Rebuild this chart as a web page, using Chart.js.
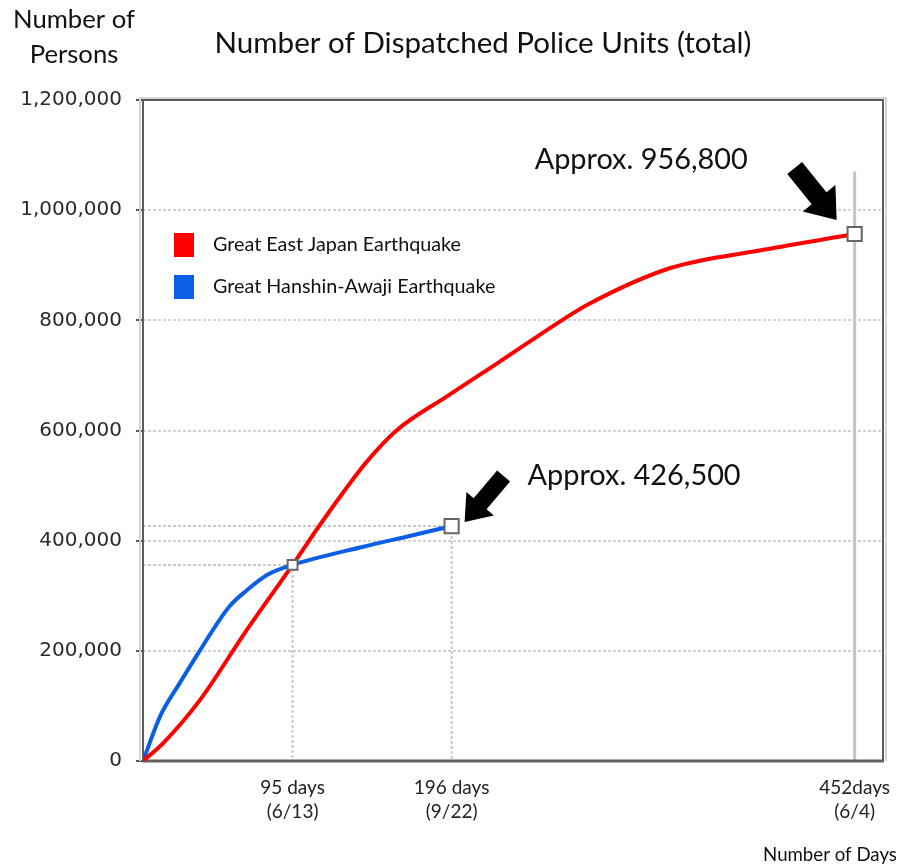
<!DOCTYPE html>
<html><head><meta charset="utf-8">
<script src="https://cdn.jsdelivr.net/npm/chart.js@4.4.1/dist/chart.umd.min.js"></script>
<style>html,body{margin:0;padding:0;background:#fff}#wrap{width:900px;height:866px}</style>
</head><body><div id="wrap"><canvas id="c" width="900" height="866"></canvas></div>
<script>
// ---- data ----
const titleText = 'Number of Dispatched Police Units (total)';
const yTitleLines = ['Number of', 'Persons'];
const xTitleText = 'Number of Days';
const seriesNames = ['Great East Japan Earthquake', 'Great Hanshin-Awaji Earthquake'];
const eastDays   = [0, 13, 36, 65, 95, 111, 127, 142, 161, 193, 225, 266, 282, 335, 394, 452];
const eastValues = [0, 33000, 110000, 234000, 356000, 423000, 487000, 543000, 600000, 662000, 722000, 800000, 828000, 895000, 928000, 956800];
const hanshinDays   = [0, 11, 23, 36, 46, 55, 66, 79, 95, 140, 170, 196];
const hanshinValues = [0, 82000, 140000, 200000, 245000, 281000, 310000, 338000, 356000, 389000, 409000, 426500];
const yTickValues = [0, 200000, 400000, 600000, 800000, 1000000, 1200000];
const xTickDays = [95, 196, 452];
const xTickLabels = [['95 days', '(6/13)'], ['196 days', '(9/22)'], ['452days', '(6/4)']];
const crossDay = 95, crossValue = 356000;
const eastEndDay = 452, eastEndValue = 956800, eastEndText = 'Approx. 956,800';
const hanshinEndDay = 196, hanshinEndValue = 426500, hanshinEndText = 'Approx. 426,500';
const topRefValue = 1070000;

const RED = '#ff0000', BLUE = '#0a5fe6';
const SANS = 'Lato, "Open Sans", sans-serif';

function fitFont(ctx, text, w, family) {
  ctx.font = '100px ' + family;
  const m = ctx.measureText(text).width;
  const s = 100 * w / m;
  ctx.font = s.toFixed(2) + 'px ' + family;
  return s;
}
function arrow(ctx, x0, y0, x1, y1, bw, hl, hw) {
  const dx = x1 - x0, dy = y1 - y0, L = Math.hypot(dx, dy);
  const ux = dx / L, uy = dy / L, nx = -uy, ny = ux;
  const bx = x1 - ux * hl, by = y1 - uy * hl;
  ctx.beginPath();
  ctx.moveTo(x0 + nx * bw / 2, y0 + ny * bw / 2);
  ctx.lineTo(bx + nx * bw / 2, by + ny * bw / 2);
  ctx.lineTo(bx + nx * hw / 2, by + ny * hw / 2);
  ctx.lineTo(x1, y1);
  ctx.lineTo(bx - nx * hw / 2, by - ny * hw / 2);
  ctx.lineTo(bx - nx * bw / 2, by - ny * bw / 2);
  ctx.lineTo(x0 - nx * bw / 2, y0 - ny * bw / 2);
  ctx.closePath();
  ctx.fillStyle = '#000';
  ctx.fill();
}

const underlay = {
  id: 'underlay',
  beforeDatasetsDraw(chart) {
    const {ctx, chartArea: a, scales: {x, y}} = chart;
    ctx.save();
    ctx.strokeStyle = '#c8c8c8'; ctx.lineWidth = 2; ctx.setLineDash([3, 2]);
    [[crossDay, crossValue], [hanshinEndDay, hanshinEndValue]].forEach(([d, v]) => {
      const px = x.getPixelForValue(d), py = y.getPixelForValue(v);
      ctx.beginPath(); ctx.moveTo(a.left, py); ctx.lineTo(px, py); ctx.stroke();
      ctx.beginPath(); ctx.moveTo(px, py); ctx.lineTo(px, a.bottom); ctx.stroke();
    });
    ctx.setLineDash([]);
    ctx.strokeStyle = '#c4c4c4'; ctx.lineWidth = 3;
    const ex = x.getPixelForValue(eastEndDay);
    ctx.beginPath(); ctx.moveTo(ex, y.getPixelForValue(topRefValue)); ctx.lineTo(ex, a.bottom); ctx.stroke();
    ctx.strokeStyle = '#d6d6d6'; ctx.lineWidth = 2;
    ctx.beginPath();
    ctx.moveTo(a.left - 3, a.bottom); ctx.lineTo(a.left - 3, a.top - 2); ctx.lineTo(a.right + 3, a.top - 2); ctx.lineTo(a.right + 3, a.bottom);
    ctx.stroke();
    ctx.strokeStyle = '#5c5c5c'; ctx.lineWidth = 2;
    ctx.beginPath();
    ctx.moveTo(a.left, a.bottom); ctx.lineTo(a.left, a.top); ctx.lineTo(a.right, a.top); ctx.lineTo(a.right, a.bottom);
    ctx.stroke();
    ctx.lineWidth = 3; ctx.strokeStyle = '#606060';
    ctx.beginPath(); ctx.moveTo(a.left - 1, a.bottom); ctx.lineTo(a.right + 1, a.bottom); ctx.stroke();
    ctx.restore();
  }
};

const overlay = {
  id: 'overlay',
  afterDraw(chart) {
    const {ctx, scales: {x, y}} = chart;
    ctx.save();
    ctx.fillStyle = '#111';
    ctx.textBaseline = 'middle';
    ctx.textAlign = 'center';
    fitFont(ctx, titleText, 537, SANS);
    ctx.fillText(titleText, 483, 43);
    fitFont(ctx, yTitleLines[0], 122, SANS);
    ctx.fillText(yTitleLines[0], 74, 20);
    ctx.fillText(yTitleLines[1], 74, 55);
    fitFont(ctx, xTitleText, 134, SANS);
    ctx.fillText(xTitleText, 830, 855);
    ctx.textAlign = 'left';
    fitFont(ctx, seriesNames[0], 248, SANS);
    [[RED, 245], [BLUE, 287]].forEach(([c, cy], i) => {
      ctx.fillStyle = c;
      ctx.fillRect(174, cy - 12, 20, 24);
      ctx.fillStyle = '#111';
      ctx.fillText(seriesNames[i], 213, cy);
    });
    const e = {x: x.getPixelForValue(eastEndDay), y: y.getPixelForValue(eastEndValue)};
    const h = {x: x.getPixelForValue(hanshinEndDay), y: y.getPixelForValue(hanshinEndValue)};
    fitFont(ctx, eastEndText, 213, SANS);
    ctx.fillText(eastEndText, e.x - 320, e.y - 74);
    ctx.fillText(hanshinEndText, h.x + 76, h.y - 50);
    arrow(ctx, e.x - 60, e.y - 66, e.x - 18, e.y - 14, 19, 28, 42);
    arrow(ctx, h.x + 52, h.y - 50, h.x + 13, h.y - 4, 17, 24, 36);
    ctx.restore();
  }
};

const markerRadius = (days, marks) => (c) => marks[days[c.dataIndex]] || 0;

new Chart(document.getElementById('c'), {
  type: 'line',
  data: {
    datasets: [
      {
        label: seriesNames[0],
        data: eastDays.map((d, i) => ({x: d, y: eastValues[i]})),
        borderColor: RED, borderWidth: 4, cubicInterpolationMode: 'monotone',
        pointStyle: 'rect', pointBackgroundColor: '#fff', pointBorderColor: '#666', pointBorderWidth: 2,
        pointRadius: markerRadius(eastDays, {[crossDay]: 7, [eastEndDay]: 10}),
      },
      {
        label: seriesNames[1],
        data: hanshinDays.map((d, i) => ({x: d, y: hanshinValues[i]})),
        borderColor: BLUE, borderWidth: 4, cubicInterpolationMode: 'monotone',
        pointStyle: 'rect', pointBackgroundColor: '#fff', pointBorderColor: '#666', pointBorderWidth: 2,
        pointRadius: markerRadius(hanshinDays, {[hanshinEndDay]: 10}),
      }
    ]
  },
  options: {
    responsive: false, animation: false, events: [],
    layout: {padding: {top: 100, right: 17, bottom: 0, left: 0}},
    plugins: {legend: {display: false}, tooltip: {enabled: false}, title: {display: false}},
    scales: {
      x: {
        type: 'linear', min: 0, max: 470,
        afterFit(s) { s.height = 105; s.paddingLeft = 0; s.paddingRight = 0; },
        afterBuildTicks(s) { s.ticks = xTickDays.map(v => ({value: v})); },
        grid: {display: false, drawTicks: false},
        border: {display: false},
        ticks: {
          autoSkip: false, maxRotation: 0, padding: 15, color: '#222',
          font: {family: SANS, size: 19, lineHeight: 1.27},
          callback: (v) => { const i = xTickDays.indexOf(v); return i >= 0 ? xTickLabels[i] : ''; }
        }
      },
      y: {
        type: 'linear', min: 0, max: 1200000,
        afterFit(s) { s.width = 143; s.paddingTop = 0; s.paddingBottom = 0; },
        afterBuildTicks(s) { s.ticks = yTickValues.map(v => ({value: v})); },
        grid: {color: '#d2d2d2', lineWidth: 2, tickLength: 7, tickColor: '#555', tickWidth: 2},
        border: {display: false, dash: [3, 2]},
        ticks: {
          padding: 14, color: '#2a2a2a',
          font: {family: '"DejaVu Sans", sans-serif', size: 20},
          callback: (v) => v.toLocaleString('en-US')
        }
      }
    }
  },
  plugins: [underlay, overlay]
});
</script>
</body></html>
